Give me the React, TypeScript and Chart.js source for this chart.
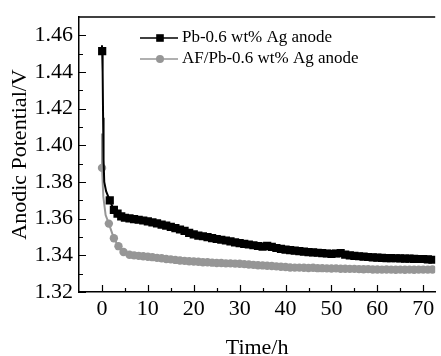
import React, { useEffect, useRef } from "react";
import { Chart, registerables } from "chart.js";

Chart.register(...registerables);

// ---- Data ----
const blackTimes = [
  0, 0.05, 0.15, 0.25, 0.35, 0.5, 0.9, 1.7, 2.6, 3.4, 4.2,
  5, 6, 7, 8, 9, 10, 11, 12, 13, 14,
  15, 16, 17, 18, 19, 20, 21, 22, 23, 24,
  25, 26, 27, 28, 29, 30, 31, 32, 33, 34,
  35, 36, 37, 38, 39, 40, 41, 42, 43, 44,
  45, 46, 47, 48, 49, 50, 51, 52, 53, 54,
  55, 56, 57, 58, 59, 60, 61, 62, 63, 64,
  65, 66, 67, 68, 69, 70, 71, 72,
];
const blackValues = [
  1.4546, 1.4514, 1.44, 1.415, 1.392, 1.38, 1.375, 1.37, 1.3648, 1.3627, 1.3613,
  1.3605, 1.3602, 1.3598, 1.3594, 1.359, 1.3585, 1.358, 1.3574, 1.3568, 1.3562,
  1.3555, 1.3548, 1.3541, 1.3533, 1.3523, 1.3514, 1.3508, 1.3504, 1.3499, 1.3494,
  1.3489, 1.3485, 1.3481, 1.3476, 1.3471, 1.3467, 1.3463, 1.3459, 1.3455, 1.3451,
  1.3448, 1.3452, 1.3446, 1.344, 1.3435, 1.3431, 1.3428, 1.3426, 1.3423, 1.342,
  1.3418, 1.3416, 1.3414, 1.3412, 1.341, 1.3408, 1.341, 1.3412, 1.3404, 1.34,
  1.3397, 1.3395, 1.3393, 1.3391, 1.3389, 1.3388, 1.3386, 1.3385, 1.3385, 1.3384,
  1.3383, 1.3382, 1.3382, 1.3381, 1.338, 1.338, 1.3378, 1.3376,
];
const grayTimes = [
  0, 0.02, 0.3, 0.8, 1.5, 2.6, 3.6, 4.7,
  6, 7, 8, 9, 10, 11, 12, 13, 14, 15,
  16, 17, 18, 19, 20, 21, 22, 23, 24, 25,
  26, 27, 28, 29, 30, 31, 32, 33, 34, 35,
  36, 37, 38, 39, 40, 41, 42, 43, 44, 45,
  46, 47, 48, 49, 50, 51, 52, 53, 54, 55,
  56, 57, 58, 59, 60, 61, 62, 63, 64, 65,
  66, 67, 68, 69, 70, 71, 72,
];
const grayValues = [
  1.4064, 1.3877, 1.372, 1.362, 1.3573, 1.3493, 1.345, 1.3418,
  1.3403, 1.34, 1.3397, 1.3395, 1.3392, 1.339, 1.3386, 1.3384, 1.338, 1.3378,
  1.3375, 1.3372, 1.337, 1.3368, 1.3366, 1.3365, 1.3362, 1.3362, 1.336, 1.3358,
  1.3358, 1.3356, 1.3356, 1.3355, 1.3354, 1.3352, 1.335, 1.3348, 1.3346, 1.3345,
  1.3343, 1.3342, 1.334, 1.3338, 1.3336, 1.3334, 1.3333, 1.3333, 1.3332, 1.3331,
  1.3332, 1.333, 1.333, 1.3329, 1.3328, 1.3329, 1.3327, 1.3327, 1.3326, 1.3326,
  1.3325, 1.3324, 1.3325, 1.3323, 1.3323, 1.3322, 1.3323, 1.3322, 1.3321, 1.3322,
  1.3321, 1.3322, 1.3321, 1.3322, 1.3322, 1.3322, 1.3323,
];
const seriesLabels = ["Pb-0.6 wt% Ag anode", "AF/Pb-0.6 wt% Ag anode"];
const xMajorTicks = [0, 10, 20, 30, 40, 50, 60, 70];
const xMinorTicks = [5, 15, 25, 35, 45, 55, 65];
const yMajorTicks = [1.32, 1.34, 1.36, 1.38, 1.4, 1.42, 1.44, 1.46];
const yMinorTicks = [1.33, 1.35, 1.37, 1.39, 1.41, 1.43, 1.45];

const FONT = "'Liberation Serif', 'Times New Roman', serif";
const BLACK = "#000000";
const GRAY = "#969696";

const decorPlugin = {
  id: "decor",
  afterDraw(chart: any) {
    const { ctx, chartArea, scales } = chart;
    const xs = scales.x;
    const ys = scales.y;
    ctx.save();
    // top border
    ctx.strokeStyle = "#000";
    ctx.lineWidth = 1.5;
    ctx.beginPath();
    ctx.moveTo(chartArea.left, chartArea.top);
    ctx.lineTo(chartArea.right, chartArea.top);
    ctx.stroke();
    // inward ticks
    ctx.lineWidth = 1.2;
    ctx.beginPath();
    xMajorTicks.forEach((v) => {
      const px = Math.round(xs.getPixelForValue(v)) + 0.5;
      ctx.moveTo(px, chartArea.bottom);
      ctx.lineTo(px, chartArea.bottom - 7);
    });
    xMinorTicks.forEach((v) => {
      const px = Math.round(xs.getPixelForValue(v)) + 0.5;
      ctx.moveTo(px, chartArea.bottom);
      ctx.lineTo(px, chartArea.bottom - 4);
    });
    yMajorTicks.forEach((v) => {
      const py = Math.round(ys.getPixelForValue(v)) + 0.5;
      ctx.moveTo(chartArea.left, py);
      ctx.lineTo(chartArea.left + 7, py);
    });
    yMinorTicks.forEach((v) => {
      const py = Math.round(ys.getPixelForValue(v)) + 0.5;
      ctx.moveTo(chartArea.left, py);
      ctx.lineTo(chartArea.left + 4, py);
    });
    ctx.stroke();

    // legend
    const lx0 = 140;
    const lx1 = 178;
    const mx = 160;
    const rows = [38, 59];
    ctx.font = `17px ${FONT}`;
    ctx.textBaseline = "middle";
    ctx.textAlign = "left";
    // row 1
    ctx.strokeStyle = BLACK;
    ctx.lineWidth = 1.5;
    ctx.beginPath();
    ctx.moveTo(lx0, rows[0]);
    ctx.lineTo(lx1, rows[0]);
    ctx.stroke();
    ctx.fillStyle = BLACK;
    ctx.fillRect(mx - 3.8, rows[0] - 3.8, 7.6, 7.6);
    ctx.fillText(seriesLabels[0], 182, rows[0]);
    // row 2
    ctx.strokeStyle = GRAY;
    ctx.beginPath();
    ctx.moveTo(lx0, rows[1]);
    ctx.lineTo(lx1, rows[1]);
    ctx.stroke();
    ctx.fillStyle = GRAY;
    ctx.beginPath();
    ctx.arc(mx, rows[1], 4, 0, Math.PI * 2);
    ctx.fill();
    ctx.fillStyle = BLACK;
    ctx.fillText(seriesLabels[1], 182, rows[1]);
    ctx.restore();
  },
};

export default function App() {
  const ref = useRef<HTMLCanvasElement | null>(null);
  useEffect(() => {
    if (!ref.current) return;
    const blackData = blackTimes.map((t, i) => ({ x: t, y: blackValues[i] }));
    const grayData = grayTimes.map((t, i) => ({ x: t, y: grayValues[i] }));
    const chart = new Chart(ref.current, {
      type: "line",
      data: {
        datasets: [
          {
            label: seriesLabels[0],
            data: blackData,
            borderColor: BLACK,
            backgroundColor: BLACK,
            borderWidth: 2,
            pointStyle: "rect",
            pointRadius: (c: any) => {
              const t = c.raw ? c.raw.x : 0;
              if (c.dataIndex === 0 || (t > 0.1 && t < 1.5)) return 0;
              return 5.8;
            },
            pointBorderWidth: 0,
            pointBackgroundColor: BLACK,
            tension: 0,
          },
          {
            label: seriesLabels[1],
            data: grayData,
            borderColor: GRAY,
            backgroundColor: GRAY,
            borderWidth: 2,
            pointStyle: "circle",
            pointRadius: (c: any) => {
              const t = c.raw ? c.raw.x : 0;
              if (c.dataIndex === 0 || (t > 0.1 && t < 1.2)) return 0;
              return 4.2;
            },
            pointBorderWidth: 0,
            pointBackgroundColor: GRAY,
            tension: 0,
          },
        ],
      },
      options: {
        animation: false,
        responsive: false,
        devicePixelRatio: 1,
        layout: { padding: { top: 12, right: 0, bottom: 0, left: 0 } },
        plugins: { legend: { display: false }, tooltip: { enabled: false } },
        scales: {
          x: {
            type: "linear",
            min: -5,
            max: 72.6,
            afterFit: (s: any) => {
              s.height = 64;
            },
            border: { display: true, color: "#000", width: 1.5 },
            grid: { display: true, drawOnChartArea: false, drawTicks: false },
            ticks: {
              stepSize: 10,
              includeBounds: false,
              padding: 4,
              color: "#000",
              font: { family: FONT, size: 22 },
              maxRotation: 0,
              autoSkip: false,
            },
            title: {
              display: true,
              text: "Time/h",
              color: "#000",
              font: { family: FONT, size: 22 },
              padding: { top: 0, bottom: -5 },
            },
          },
          y: {
            type: "linear",
            min: 1.32,
            max: 1.47,
            afterFit: (s: any) => {
              s.width = 79;
            },
            border: { display: true, color: "#000", width: 1.5 },
            grid: { display: true, drawOnChartArea: false, drawTicks: false },
            ticks: {
              stepSize: 0.02,
              includeBounds: false,
              padding: 6,
              color: "#000",
              font: { family: FONT, size: 22, lineHeight: 1 },
              callback: (v: any) => Number(v).toFixed(2),
              autoSkip: false,
            },
            title: {
              display: true,
              text: "Anodic Potential/V",
              color: "#000",
              font: { family: FONT, size: 22 },
              padding: { top: 7, bottom: 0 },
            },
          },
        },
      },
      plugins: [decorPlugin],
    } as any);
    return () => chart.destroy();
  }, []);
  return (
    <div style={{ position: "fixed", left: 0, top: 0, width: 441, height: 356, background: "#fff" }}>
      <canvas ref={ref} width={441} height={356} style={{ display: "block", width: 441, height: 356 }} />
    </div>
  );
}
